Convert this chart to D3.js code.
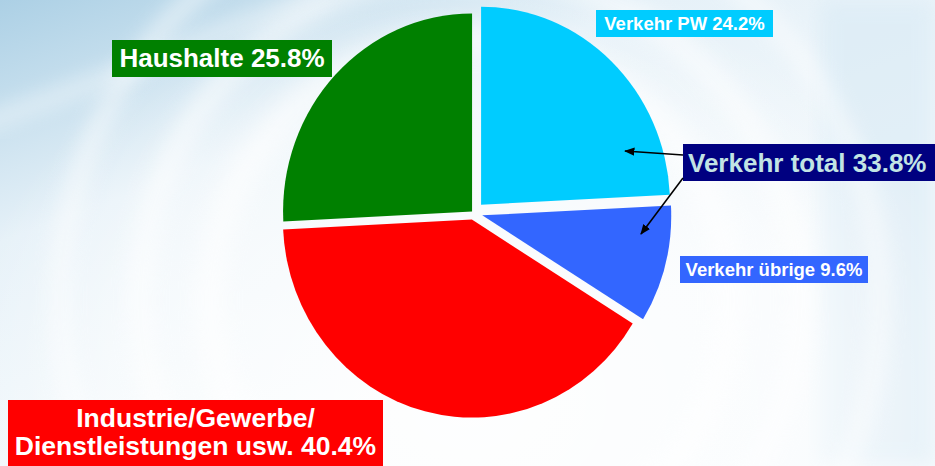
<!DOCTYPE html>
<html>
<head>
<meta charset="utf-8">
<script src="https://cdn.jsdelivr.net/npm/d3@7"></script>
<style>
body { margin: 0; overflow: hidden; }
svg { display: block; }
</style>
</head>
<body>
<svg width="935" height="466"></svg>
<script>
// data (clockwise from 12 o'clock)
var categories = ["Verkehr PW", "Verkehr übrige", "Industrie/Gewerbe/Dienstleistungen usw.", "Haushalte"];
var shares = [24.2, 9.6, 40.4, 25.8];
var sliceColors = ["#00ccff", "#3366ff", "#ff0000", "#008000"];
var totalName = "Verkehr total";
var totalShare = 33.8;

var svg = d3.select("svg"),
    width = +svg.attr("width"),
    height = +svg.attr("height");

// background
var defs = svg.append("defs");
var bg = defs.append("linearGradient").attr("id", "bg")
    .attr("x1", 0).attr("y1", 0).attr("x2", 0.55).attr("y2", 0.75);
bg.append("stop").attr("offset", "0").attr("stop-color", "#acd0e5");
bg.append("stop").attr("offset", "0.45").attr("stop-color", "#e6f1f8");
bg.append("stop").attr("offset", "1").attr("stop-color", "#f4f9fc");
var glow = defs.append("radialGradient").attr("id", "glow")
    .attr("cx", 0.5).attr("cy", 0.62).attr("r", 0.5);
glow.append("stop").attr("offset", "0").attr("stop-color", "#ffffff").attr("stop-opacity", 0.9);
glow.append("stop").attr("offset", "0.7").attr("stop-color", "#ffffff").attr("stop-opacity", 0.5);
glow.append("stop").attr("offset", "1").attr("stop-color", "#ffffff").attr("stop-opacity", 0);
defs.append("filter").attr("id", "soft").append("feGaussianBlur").attr("stdDeviation", 10);

svg.append("rect").attr("width", width).attr("height", height).attr("fill", "url(#bg)");
svg.append("rect").attr("x", 820).attr("y", 0).attr("width", 115).attr("height", height)
    .attr("fill", "#d8eaf5").attr("opacity", 0.6).attr("filter", "url(#soft)");
svg.append("ellipse").attr("cx", 470).attr("cy", 300).attr("rx", 520).attr("ry", 420)
    .attr("fill", "url(#glow)");
[260, 330, 410].forEach(function(r, i) {
    svg.append("circle").attr("cx", 470).attr("cy", 300).attr("r", r)
        .attr("fill", "none").attr("stroke", "#ffffff")
        .attr("stroke-width", 30 - i * 6).attr("opacity", 0.55)
        .attr("filter", "url(#soft)");
});
svg.append("path")
    .attr("d", "M-20,125 C80,90 200,40 330,-10")
    .attr("fill", "none").attr("stroke", "#ffffff").attr("stroke-width", 14)
    .attr("opacity", 0.5).attr("filter", "url(#soft)");

// pie
var rx = 189, ry = 198;
var explode = [11, 9, 6.5, 2];
var pie = d3.pie().sort(null).value(function(d) { return d; });
var arc = d3.arc().innerRadius(0).outerRadius(rx);
var arcs = pie(shares);

var pieG = svg.append("g")
    .attr("transform", "translate(473.5,213) scale(1," + (ry / rx) + ")");
pieG.selectAll("path")
    .data(arcs)
    .enter()
    .append("path")
    .attr("d", arc)
    .attr("fill", function(d, i) { return sliceColors[i]; })
    .attr("transform", function(d, i) {
        var a = (d.startAngle + d.endAngle) / 2;
        return "translate(" + (explode[i] * Math.sin(a)) + "," + (-explode[i] * Math.cos(a)) + ")";
    });

// labels
var font = "'Liberation Sans', Arial, sans-serif";
var labels = [
    { lines: [categories[0] + " " + shares[0] + "%"], box: [596, 10, 177, 27], size: 18.5, base: [30], fill: sliceColors[0], color: "#fff" },
    { lines: [categories[1] + " " + shares[1] + "%"], box: [680, 256, 188, 27], size: 18.5, base: [276], fill: sliceColors[1], color: "#fff" },
    { lines: ["Industrie/Gewerbe/", "Dienstleistungen usw. " + shares[2] + "%"], box: [8, 400, 375, 70], size: 26.5, base: [427, 455], fill: sliceColors[2], color: "#fff" },
    { lines: [categories[3] + " " + shares[3] + "%"], box: [112, 40, 220, 37], size: 26, base: [67], fill: sliceColors[3], color: "#fff" },
    { lines: [totalName + " " + totalShare + "%"], box: [683, 144, 260, 37], size: 26, base: [172], fill: "#000080", color: "#c2e4e4", anchor: "start", tx: 688 }
];

labels.forEach(function(l) {
    svg.append("rect")
        .attr("x", l.box[0]).attr("y", l.box[1])
        .attr("width", l.box[2]).attr("height", l.box[3])
        .attr("fill", l.fill);
    l.lines.forEach(function(t, j) {
        svg.append("text")
            .attr("x", l.tx || (l.box[0] + l.box[2] / 2))
            .attr("y", l.base[j])
            .attr("text-anchor", l.anchor || "middle")
            .style("font-family", font)
            .style("font-weight", "bold")
            .style("font-size", l.size + "px")
            .attr("fill", l.color)
            .text(t);
    });
});

// arrows from "Verkehr total" to its two parts
defs.append("marker").attr("id", "head")
    .attr("viewBox", "0 0 10 10").attr("refX", 9).attr("refY", 5)
    .attr("markerWidth", 7).attr("markerHeight", 7).attr("orient", "auto")
    .append("path").attr("d", "M0,1 L10,5 L0,9 Z").attr("fill", "#000");
var arrows = [[[683, 155], [625, 151]], [[683, 178], [641, 234]]];
arrows.forEach(function(a) {
    svg.append("line")
        .attr("x1", a[0][0]).attr("y1", a[0][1])
        .attr("x2", a[1][0]).attr("y2", a[1][1])
        .attr("stroke", "#000").attr("stroke-width", 1.5)
        .attr("marker-end", "url(#head)");
});
</script>
</body>
</html>
